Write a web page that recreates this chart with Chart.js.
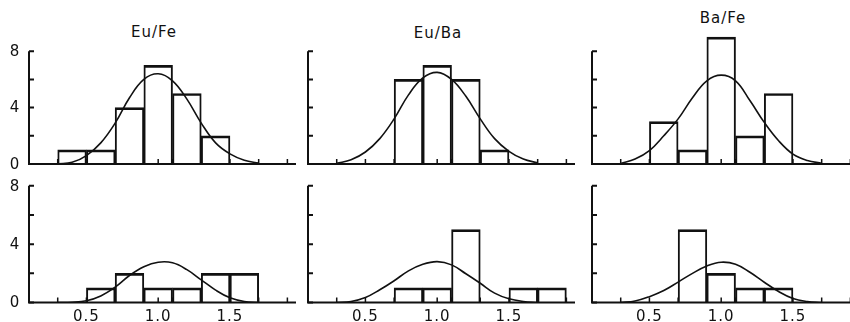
<!DOCTYPE html>
<html>
<head>
<meta charset="utf-8">
<script src="https://cdn.jsdelivr.net/npm/chart.js@4.4.1/dist/chart.umd.min.js"></script>
<style>
  html, body { margin: 0; padding: 0; background: #fff; overflow: hidden; }
  body { width: 850px; height: 322px; position: relative; }
  canvas { position: absolute; }
  .ttl { position: absolute; font: 15px "DejaVu Sans", sans-serif; line-height: 15px;
         letter-spacing: 1px; transform: translateX(-50%); white-space: nowrap; color: #111; }
</style>
</head>
<body>
<div class="ttl" style="left:154px; top:25px">Eu/Fe</div>
<div class="ttl" style="left:438px; top:26px">Eu/Ba</div>
<div class="ttl" style="left:723px; top:11px">Ba/Fe</div>

<canvas id="c1" width="296" height="170" style="left:0px; top:0px"></canvas>
<canvas id="c2" width="296" height="170" style="left:279px; top:0px"></canvas>
<canvas id="c3" width="296" height="170" style="left:563px; top:0px"></canvas>
<canvas id="c4" width="296" height="150" style="left:0px; top:172px"></canvas>
<canvas id="c5" width="296" height="150" style="left:279px; top:172px"></canvas>
<canvas id="c6" width="296" height="150" style="left:563px; top:172px"></canvas>

<script>
// histogram bins (centres, width 0.2)
const binCenters = [0.4, 0.6, 0.8, 1.0, 1.2, 1.4, 1.6, 1.8];

// counts per bin
const euFeTop    = [1, 1, 4, 7, 5, 2, 0, 0];
const euBaTop    = [0, 0, 6, 7, 6, 1, 0, 0];
const baFeTop    = [0, 3, 1, 9, 2, 5, 0, 0];
const euFeBottom = [0, 1, 2, 1, 1, 2, 2, 0];
const euBaBottom = [0, 0, 1, 1, 5, 0, 1, 1];
const baFeBottom = [0, 0, 5, 2, 1, 1, 0, 0];

// fitted curves
const curveX = [0.3, 0.4, 0.5, 0.6, 0.7, 0.8, 0.9, 1.0, 1.1, 1.2, 1.3, 1.4, 1.5, 1.6, 1.7];
const euFeTopCurve    = [0.02, 0.12, 0.6, 1.5, 2.9, 4.7, 6.0, 6.4, 5.9, 4.6, 2.9, 1.5, 0.72, 0.27, 0.06];
const euBaTopCurve    = [0.05, 0.3, 0.85, 1.8, 3.2, 4.9, 6.1, 6.5, 6.0, 4.8, 3.2, 1.8, 0.9, 0.35, 0.08];
const baFeTopCurve    = [0.03, 0.35, 0.95, 2.0, 3.2, 4.7, 5.9, 6.3, 5.9, 4.5, 2.95, 1.65, 0.7, 0.25, 0.05];
const euFeBottomCurve = [0, 0.02, 0.12, 0.45, 1.05, 1.85, 2.45, 2.76, 2.72, 2.25, 1.55, 0.85, 0.32, 0.07, 0];
const euBaBottomCurve = [0, 0.07, 0.34, 0.87, 1.49, 2.17, 2.62, 2.8, 2.58, 1.97, 1.32, 0.64, 0.25, 0.07, 0];
const baFeBottomCurve = [0, 0.1, 0.4, 0.82, 1.4, 2.0, 2.5, 2.76, 2.62, 2.07, 1.39, 0.75, 0.27, 0.07, 0];

// axes
const xTicks = [0.3, 0.5, 0.7, 0.9, 1.0, 1.1, 1.3, 1.5, 1.7, 1.9];
const xLabels = ['0.5', '1.0', '1.5'];
const yTicks = [0, 2, 4, 6, 8];
const yLabels = ['0', '4', '8'];

const ink = '#111';
const labelFont = '15px "DejaVu Sans", sans-serif';

const histAxes = {
    id: 'histAxes',
    afterDraw(chart, args, opts) {
        const ctx = chart.ctx;
        const area = chart.chartArea;
        const x = chart.scales.x, y = chart.scales.y;
        const y0 = y.getPixelForValue(0);
        const yTop = y.getPixelForValue(8);
        ctx.save();
        ctx.strokeStyle = ink;
        ctx.lineWidth = 2;
        ctx.beginPath();
        ctx.moveTo(area.left, y0 + 1);
        ctx.lineTo(area.left, yTop);
        ctx.moveTo(area.left - 1, y0);
        ctx.lineTo(area.right, y0);
        ctx.stroke();
        // y ticks
        ctx.beginPath();
        yTicks.forEach(v => {
            const py = y.getPixelForValue(v);
            ctx.moveTo(area.left, py);
            ctx.lineTo(area.left + 5, py);
        });
        ctx.stroke();
        // x ticks
        ctx.lineWidth = 1.5;
        ctx.beginPath();
        xTicks.forEach(v => {
            const px = x.getPixelForValue(v);
            ctx.moveTo(px, y0);
            ctx.lineTo(px, y0 - 5);
        });
        ctx.stroke();

        ctx.fillStyle = ink;
        ctx.font = labelFont;
        ctx.letterSpacing = '1px';
        ctx.textAlign = 'center';
        ctx.textBaseline = 'middle';
        if (opts.yLabels) {
            yLabels.forEach(t => ctx.fillText(t, area.left - 14, y.getPixelForValue(Number(t)) + 1));
        }
        if (opts.xLabels) {
            xLabels.forEach(t => ctx.fillText(t, x.getPixelForValue(Number(t)), y0 + 15));
        }
        ctx.restore();
    }
};

function makePanel(id, counts, curve, top, yLabelsOn, xLabelsOn) {
    new Chart(document.getElementById(id), {
        type: 'bar',
        data: {
            datasets: [{
                type: 'line',
                data: curveX.map((v, i) => ({x: v, y: curve[i]})),
                borderColor: ink,
                borderWidth: 1.6,
                pointRadius: 0,
                tension: 0.4,
                order: 0
            }, {
                data: binCenters.map((v, i) => ({x: v, y: counts[i] || null})),
                backgroundColor: 'rgba(0,0,0,0)',
                borderColor: ink,
                borderWidth: {top: 2, left: 1.3, right: 1.3, bottom: 0},
                borderSkipped: false,
                barPercentage: 1,
                categoryPercentage: 1,
                order: 1
            }]
        },
        options: {
            responsive: false,
            animation: false,
            devicePixelRatio: 1,
            layout: {
                padding: top ? {top: 23, bottom: 6, left: 29, right: 0}
                             : {top: 6.5, bottom: 19.5, left: 29, right: 0}
            },
            scales: {
                x: {
                    type: 'linear', min: 0.1, max: 1.96, offset: false, display: false,
                    afterBuildTicks: s => { s.ticks = binCenters.map(v => ({value: v})); }
                },
                y: { min: 0, max: top ? 10 : 8.5, display: false }
            },
            plugins: {
                legend: { display: false },
                tooltip: { enabled: false },
                histAxes: { yLabels: yLabelsOn, xLabels: xLabelsOn }
            }
        },
        plugins: [histAxes]
    });
}

makePanel('c1', euFeTop, euFeTopCurve, true, true, false);
makePanel('c2', euBaTop, euBaTopCurve, true, false, false);
makePanel('c3', baFeTop, baFeTopCurve, true, false, false);
makePanel('c4', euFeBottom, euFeBottomCurve, false, true, true);
makePanel('c5', euBaBottom, euBaBottomCurve, false, false, true);
makePanel('c6', baFeBottom, baFeBottomCurve, false, false, true);
</script>
</body>
</html>
